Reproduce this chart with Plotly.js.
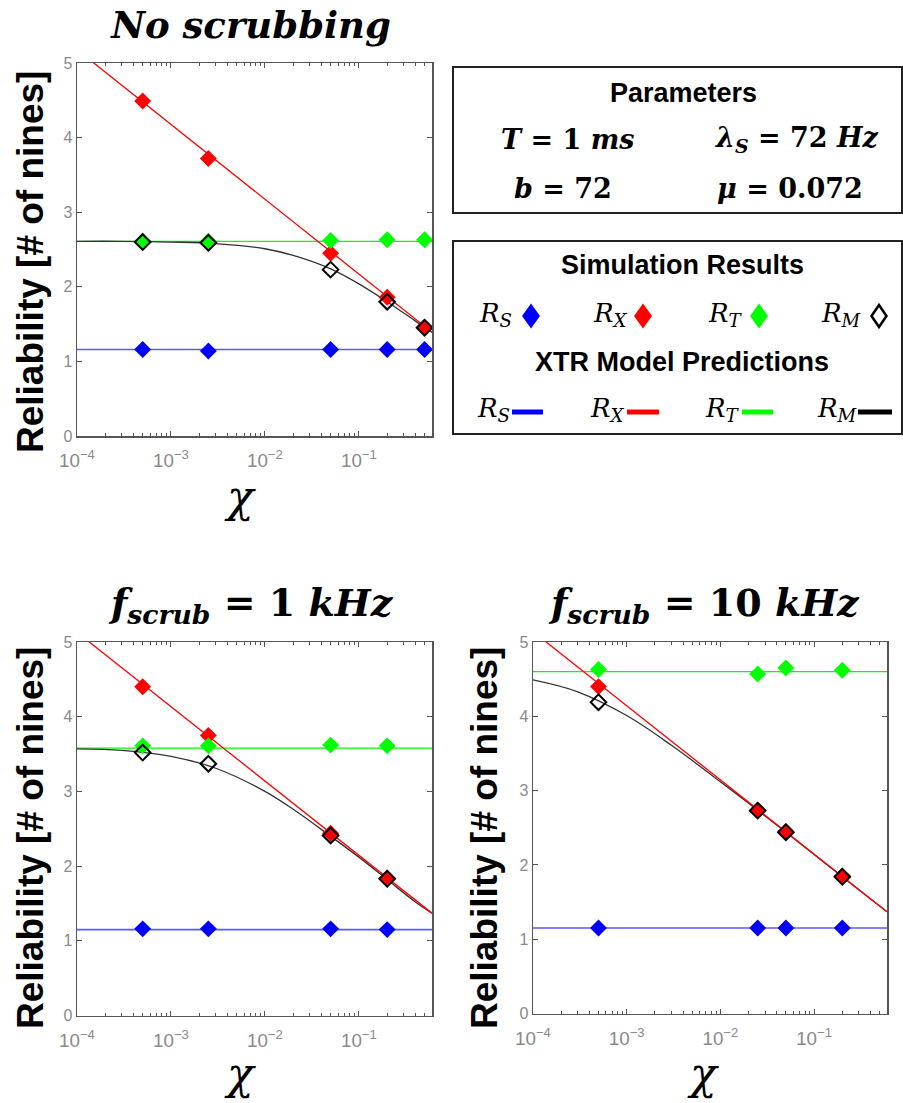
<!DOCTYPE html>
<html>
<head>
<meta charset="utf-8">
<script src="https://cdn.plot.ly/plotly-3.0.1.min.js"></script>
<style>html,body{margin:0;padding:0;background:#fff;}#chart{width:903px;height:1103px;}</style>
</head>
<body>
<div id="chart"></div>
<script>
// ---------- Data ----------
// Panel A: No scrubbing
const chiA = [5e-4, 2.5e-3, 0.05, 0.2, 0.5];
const simRS_A = [1.16, 1.14, 1.16, 1.16, 1.16];
const simRX_A = [4.49, 3.72, 2.45, 1.86, 1.46];
const simRT_A = [2.61, 2.61, 2.62, 2.63, 2.63];
const simRM_A = [2.60, 2.59, 2.23, 1.80, 1.45];

// Panel B: f_scrub = 1 kHz
const chiB = [5e-4, 2.5e-3, 0.05, 0.2];
const simRS_B = [1.16, 1.16, 1.16, 1.15];
const simRX_B = [4.40, 3.75, 2.44, 1.84];
const simRT_B = [3.61, 3.61, 3.62, 3.61];
const simRM_B = [3.52, 3.37, 2.41, 1.83];

// Panel C: f_scrub = 10 kHz
const chiC = [5e-4, 0.025, 0.05, 0.2];
const simRS_C = [1.15, 1.15, 1.15, 1.15];
const simRX_C = [4.40, 2.74, 2.45, 1.85];
const simRT_C = [4.63, 4.57, 4.65, 4.62];
const simRM_C = [4.19, 2.73, 2.44, 1.84];

// Model prediction curves (values read at these chi positions)
const modelChiEnds = [1e-4, 0.6];
const modelRX_A = [5.18, 1.39];
const modelRX_B = [5.13, 1.37];
const modelRX_C = [5.14, 1.37];
const modelRT_A = [2.61, 2.61];
const modelRT_B = [3.58, 3.58];
const modelRT_C = [4.60, 4.60];
const modelRS_A = [1.16, 1.16];
const modelRS_B = [1.15, 1.15];
const modelRS_C = [1.15, 1.15];
const modelChi = [1e-4, 3e-4, 1e-3, 3e-3, 1e-2, 2e-2, 5e-2, 0.1, 0.2, 0.4, 0.6];
const modelRM_A = [2.61, 2.61, 2.60, 2.58, 2.51, 2.42, 2.24, 2.04, 1.80, 1.54, 1.39];
const modelRM_B = [3.57, 3.55, 3.47, 3.31, 3.00, 2.76, 2.40, 2.12, 1.82, 1.52, 1.37];
const modelRM_C = [4.49, 4.33, 4.01, 3.61, 3.12, 2.83, 2.44, 2.14, 1.84, 1.54, 1.37];

const panelTitles = ['No scrubbing', '<i>f</i><sub><i>scrub</i></sub> = 1 <i>kHz</i>', '<i>f</i><sub><i>scrub</i></sub> = 10 <i>kHz</i>'];
const yTitle = 'Reliability [# of nines]';
const xTitle = '<i>χ</i>';

// ---------- helpers ----------
const W = 903, H = 1103;
const fx = x => x / W;
const fy = y => 1 - y / H;

const BLUE = '#0000ff', RED = '#ff0000', GREEN = '#00ff00', BLACK = '#000000';

function panelTraces(suffix, chi, rs, rx, rt, rm, mRX, mRT, mRS, mRM) {
  const xa = 'x' + suffix, ya = 'y' + suffix;
  const line = (x, y, color, w) => ({x, y, xaxis: xa, yaxis: ya, mode: 'lines', type: 'scatter',
    line: {color, width: w || 1.3, shape: 'spline'}, hoverinfo: 'skip', showlegend: false});
  const mk = (y, color, open) => ({x: chi, y, xaxis: xa, yaxis: ya, mode: 'markers', type: 'scatter', showlegend: false,
    marker: open ? {symbol: 'diamond-open', size: 12, color: BLACK, line: {width: 2, color: BLACK}}
                 : {symbol: 'diamond', size: 13, color, line: {width: 0}}});
  return [
    line(modelChiEnds, mRS, '#5a5aff', 1.6),
    line(modelChiEnds, mRT, GREEN, 1.3),
    line(modelChi, mRM, '#333333', 1.3),
    line(modelChiEnds, mRX, RED, 1.3),
    mk(rs, BLUE), mk(rx, RED), mk(rt, GREEN), mk(rm, BLACK, true)
  ];
}

const traces = [].concat(
  panelTraces('', chiA, simRS_A, simRX_A, simRT_A, simRM_A, modelRX_A, modelRT_A, modelRS_A, modelRM_A),
  panelTraces('2', chiB, simRS_B, simRX_B, simRT_B, simRM_B, modelRX_B, modelRT_B, modelRS_B, modelRM_B),
  panelTraces('3', chiC, simRS_C, simRX_C, simRT_C, simRM_C, modelRX_C, modelRT_C, modelRS_C, modelRM_C)
);

const AX = '#555555';
function xAxis(domain, anchor) {
  return {type: 'log', range: [-4, Math.log10(0.6)], domain, anchor,
    showline: true, linecolor: AX, linewidth: 1.5, mirror: 'allticks',
    ticks: 'inside', ticklen: 5, tickcolor: AX, dtick: 1, exponentformat: 'power',
    ticklabelstandoff: 8,
    tickfont: {family: 'Liberation Sans, Arial, sans-serif', size: 15, color: '#8a8a8a'},
    showgrid: false, zeroline: false, fixedrange: true,
    minor: {ticks: 'inside', ticklen: 3, tickcolor: AX, showgrid: false}};
}
function yAxis(domain, anchor) {
  return {range: [0, 5], domain, anchor,
    showline: true, linecolor: AX, linewidth: 1.5, mirror: 'allticks',
    ticks: 'inside', ticklen: 5, tickcolor: AX, dtick: 1,
    tickfont: {family: 'Liberation Sans, Arial, sans-serif', size: 16, color: '#8a8a8a'},
    showgrid: false, zeroline: false, fixedrange: true};
}

const serifB = (size, style) => ({family: 'DejaVu Serif, serif', size, color: '#000', weight: 'bold', style: style || 'normal'});
const sansB = (size) => ({family: 'Liberation Sans, Arial, sans-serif', size, color: '#000', weight: 'bold'});
const mathF = (size) => ({family: 'DejaVu Serif, serif', size, color: '#000'});

const ann = [];
function A(x, y, text, font, extra) {
  ann.push(Object.assign({xref: 'paper', yref: 'paper', x: fx(x), y: fy(y), text, font,
    showarrow: false, xanchor: 'center', yanchor: 'middle'}, extra || {}));
}
// panel titles
A(251, 605, panelTitles[1], serifB(38));
A(704, 605, panelTitles[2], serifB(38));
// y titles
A(30, 262, yTitle, sansB(37), {textangle: -90});
A(30, 838, yTitle, sansB(37), {textangle: -90});
A(484, 838, yTitle, sansB(37), {textangle: -90});
// x titles
A(240, 496, xTitle, mathF(44));
A(240, 1073, xTitle, mathF(44));
A(703, 1073, xTitle, mathF(44));

// Parameters box
A(683, 93, 'Parameters', sansB(27));
A(567, 140, '<i>T</i> = 1 <i>ms</i>', serifB(27));
A(797, 140, '<i>λ</i><sub><i>S</i></sub> = 72 <i>Hz</i>', serifB(27));
A(563, 188, '<i>b</i> = 72', serifB(27));
A(790, 188, '<i>μ</i> = 0.072', serifB(27));

// Legend box
A(682, 265, 'Simulation Results', sansB(27));
A(682, 362, 'XTR Model Predictions', sansB(27));
const legNames = ['<i>R</i><sub><i>S</i></sub>', '<i>R</i><sub><i>X</i></sub>', '<i>R</i><sub><i>T</i></sub>', '<i>R</i><sub><i>M</i></sub>'];
const row1End = [514, 630, 745, 863];
const row2End = [512, 627, 742, 859];
legNames.forEach((t, i) => {
  A(row1End[i], 314, t, mathF(26), {xanchor: 'right'});
  A(row2End[i], 409, t, mathF(26), {xanchor: 'right'});
});

const shapes = [
  {type: 'rect', xref: 'paper', yref: 'paper', x0: fx(453), x1: fx(902), y0: fy(67), y1: fy(213), line: {color: '#222', width: 2}},
  {type: 'rect', xref: 'paper', yref: 'paper', x0: fx(453), x1: fx(902), y0: fy(241), y1: fy(434), line: {color: '#222', width: 2}}
];
const diamondCenters = [531, 643, 759, 879];
const diamondColors = [BLUE, RED, GREEN, null];
diamondCenters.forEach((cx, i) => {
  const hw = i === 3 ? 7.5 : 9, hh = i === 3 ? 11 : 12.5, cy = 316;
  const path = `M ${fx(cx)} ${fy(cy - hh)} L ${fx(cx + hw)} ${fy(cy)} L ${fx(cx)} ${fy(cy + hh)} L ${fx(cx - hw)} ${fy(cy)} Z`;
  shapes.push(diamondColors[i]
    ? {type: 'path', xref: 'paper', yref: 'paper', path, fillcolor: diamondColors[i], line: {width: 0}}
    : {type: 'path', xref: 'paper', yref: 'paper', path, fillcolor: 'rgba(0,0,0,0)', line: {color: BLACK, width: 2.5}});
});
const lineSegs = [[512, 543, BLUE], [627, 659, RED], [742, 773, GREEN], [858, 892, BLACK]];
lineSegs.forEach(([a, b, c]) => shapes.push({type: 'line', xref: 'paper', yref: 'paper',
  x0: fx(a), x1: fx(b), y0: fy(412), y1: fy(412), line: {color: c, width: 5}}));

const layout = {
  width: W, height: H, margin: {l: 0, r: 0, t: 0, b: 0},
  paper_bgcolor: '#fff', plot_bgcolor: '#fff', showlegend: false,
  title: {text: panelTitles[0], x: fx(251), xanchor: 'center', xref: 'paper', y: fy(25), yanchor: 'middle', font: serifB(37, 'italic')},
  xaxis: xAxis([fx(77), fx(432)], 'y'),
  yaxis: yAxis([fy(436), fy(63)], 'x'),
  xaxis2: xAxis([fx(77), fx(432)], 'y2'),
  yaxis2: yAxis([fy(1015.5), fy(642)], 'x2'),
  xaxis3: xAxis([fx(533), fx(887)], 'y3'),
  yaxis3: yAxis([fy(1013.5), fy(642)], 'x3'),
  annotations: ann, shapes
};

Plotly.newPlot('chart', traces, layout, {displayModeBar: false, staticPlot: true});
</script>
</body>
</html>
